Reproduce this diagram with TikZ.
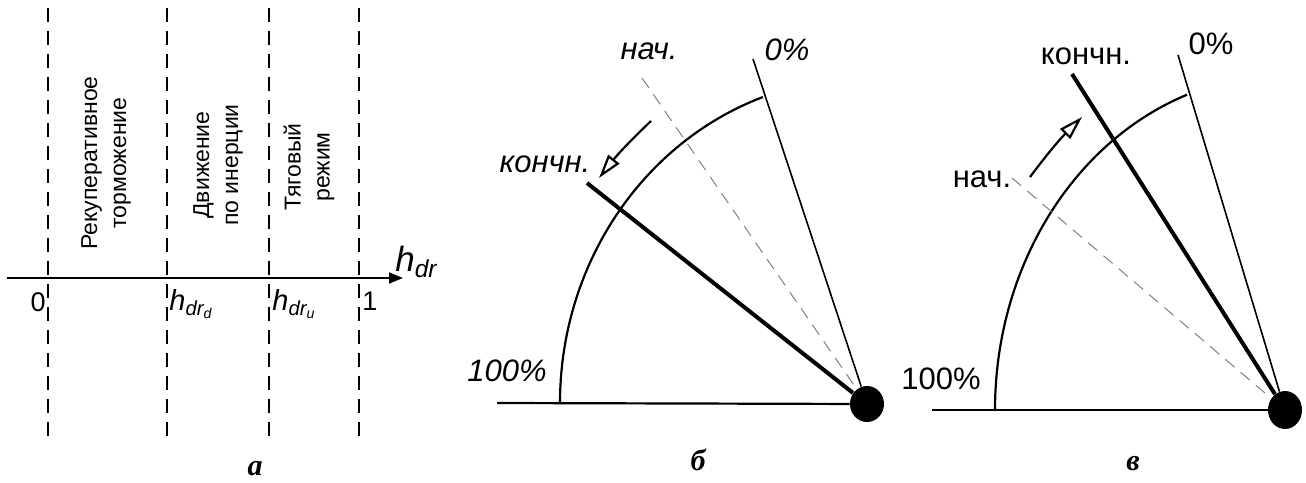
\documentclass[tikz,border=0pt]{standalone}
\usepackage{fontspec}
\setmainfont{Liberation Sans}
\newfontfamily\capfont{Liberation Serif}
\usetikzlibrary{arrows.meta,shapes.geometric}
\newcommand{\hdr}[1]{\textit{h\textsubscript{dr\textsubscript{#1}}}}

\begin{document}
\begin{tikzpicture}[x=0.5pt, y=0.5pt,
    lbl/.style={font=\fontsize{15.5}{18}\selectfont, anchor=base, inner sep=0pt},
    ilbl/.style={lbl, font=\fontsize{15.5}{18}\selectfont\itshape},
    numlbl/.style={font=\fontsize{13.5}{16}\selectfont, inner sep=0pt},
    zone/.style={font=\fontsize{11.5}{14.5}\selectfont, align=center, rotate=90, inner sep=0pt},
    captxt/.style={font=\capfont\bfseries\itshape\fontsize{15}{18}\selectfont, anchor=base, inner sep=0pt},
    border/.style={dash pattern=on 7pt off 4.5pt, line width=0.7pt},
    axisline/.style={line width=0.8pt, -{Triangle[length=7pt, width=5.5pt]}},
    groundline/.style={line width=1.1pt},
    zeroline/.style={line width=0.8pt},
    endline/.style={line width=2pt},
    startline/.style={dash pattern=on 6pt off 4pt, line width=0.5pt, gray},
    rotarrow/.style={line width=1.1pt, -{Triangle[open, length=12pt, width=7pt]}},
    pivotdot/.style={ellipse, fill, inner sep=0pt, minimum width=17pt, minimum height=18pt}]
  \useasboundingbox (0,0) rectangle (1306,482);

  % a
  \coordinate (ax0) at (7,204);
  \coordinate (ax1) at (403,204);
  \foreach \x/\n in {48/z0, 167/zd, 269/zu, 359/z1} {
    \coordinate (\n t) at (\x,474);
    \coordinate (\n b) at (\x,39);
    \draw[border] (\n t) -- (\n b);
  }
  \draw[axisline] (ax0) -- (ax1);
  \node[anchor=base west, font=\fontsize{17.5}{20}\selectfont, inner sep=0pt] (hx) at (395,210) {\textit{h\textsubscript{dr}}};
  \node[numlbl, anchor=north east] (l0) at (46,190) {0};
  \node[numlbl, anchor=north west] (l1) at (362,190) {1};
  \node[numlbl, font=\fontsize{14.5}{17}\selectfont, anchor=north west] (ld) at (169,193) {\hdr{d}};
  \node[numlbl, font=\fontsize{14.5}{17}\selectfont, anchor=north west] (lu) at (272,193) {\hdr{u}};
  \node[zone] (regen) at (106,319) {Рекуперативное\\торможение};
  \node[zone] (coast) at (218,317) {Движение\\по инерции};
  \node[zone] (drive) at (309,315) {Тяговый\\режим};
  \node[captxt] (capa) at (255,7) {а};

  % b
  \node[pivotdot] (Db) at (867,78) {};
  \coordinate (bL) at (497,79);
  \coordinate (b100) at (560,79);
  \coordinate (b0) at (753,423);
  \coordinate (bs) at (642,404);
  \coordinate (be) at (587,299);
  \coordinate (ba1) at (651,361);
  \coordinate (ba2) at (599,304);
  \draw[groundline] (bL) -- (Db);
  \draw[groundline] (b100) arc[start angle=180, end angle=109.7, x radius=306, y radius=325];
  \draw[zeroline] (b0) -- (Db);
  \draw[startline] (bs) -- (Db);
  \draw[endline] (be) -- (Db);
  \draw[rotarrow] (ba1) to[bend right=4] (ba2);
  \node[ilbl] (bstart) at (649,422) {нач.};
  \node[ilbl] (bzero) at (787,421) {0\%};
  \node[ilbl] (bfin) at (545,309) {кончн.};
  \node[ilbl] (bfull) at (507,100) {100\%};
  \node[captxt] (capb) at (698,12) {б};

  % c
  \node[pivotdot, minimum height=19pt] (Dc) at (1285,72) {};
  \coordinate (cL) at (932,72);
  \coordinate (c100) at (995,72);
  \coordinate (c0) at (1178,427);
  \coordinate (cs) at (1012,304);
  \coordinate (ce) at (1072,408);
  \coordinate (ca1) at (1030,305);
  \coordinate (ca2) at (1082,365);
  \draw[groundline] (cL) -- (Dc);
  \draw[groundline] (c100) arc[start angle=180, end angle=109.75, x radius=290, y radius=335];
  \draw[zeroline] (c0) -- (Dc);
  \draw[startline] (cs) -- (Dc);
  \draw[endline] (ce) -- (Dc);
  \draw[rotarrow] (ca1) to[bend left=4] (ca2);
  \node[lbl] (cstart) at (982,294) {нач.};
  \node[lbl] (czero) at (1211,427) {0\%};
  \node[lbl] (cfin) at (1086,417) {кончн.};
  \node[lbl] (cfull) at (941,92) {100\%};
  \node[captxt] (capc) at (1133,12) {в};
\end{tikzpicture}
\end{document}
